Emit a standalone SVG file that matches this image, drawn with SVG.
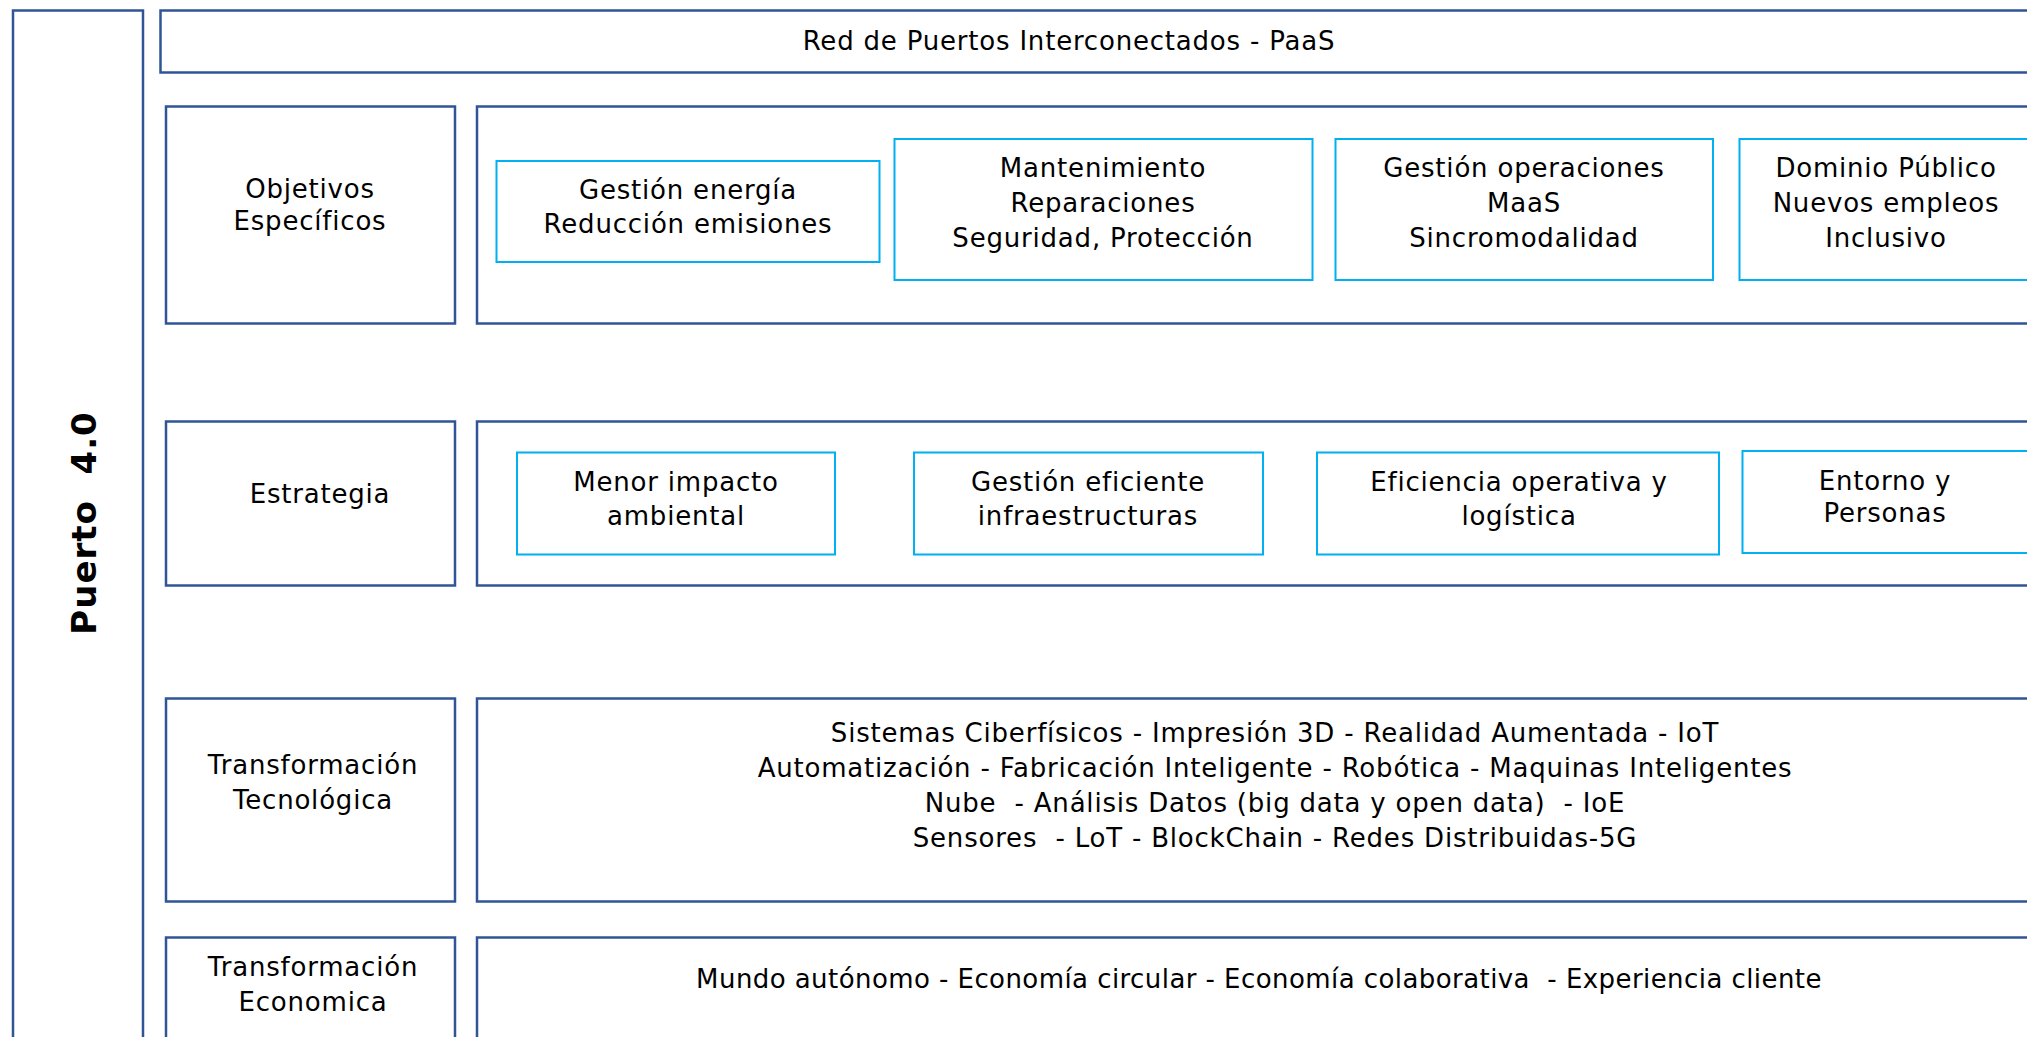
<svg xmlns="http://www.w3.org/2000/svg" width="2027" height="1037" viewBox="0 0 2027 1037">
<style>
.o{fill:#fff;stroke:#2F5597;stroke-width:2.5}
.i{fill:#fff;stroke:#00B0F0;stroke-width:2}
text{font-family:"Comic Sans MS","DejaVu Sans",sans-serif;font-size:26px;letter-spacing:0.8px;fill:#000;text-anchor:middle;dominant-baseline:central;white-space:pre}
.b{font-weight:bold;font-size:34px;letter-spacing:1px}
.n{letter-spacing:0.43px}
</style>
<rect width="2027" height="1037" fill="#fff"/>
<g id="puerto">
<rect class="o" x="13" y="10.5" width="130" height="1040"/>
<text class="b" xml:space="preserve" transform="translate(84,523) rotate(-90)">Puerto  4.0</text>
</g>
<g id="red">
<rect class="o" x="160.5" y="10.5" width="1880" height="62"/>
<text x="1069" y="41">Red de Puertos Interconectados - PaaS</text>
</g>
<g id="objetivos">
<rect class="o" x="166" y="106.5" width="289" height="217"/>
<text x="310" y="189">Objetivos</text>
<text x="310" y="221">Específicos</text>
</g>
<g id="objetivos-panel">
<rect class="o" x="477" y="106.5" width="1560" height="217"/>
</g>
<g id="obj1">
<rect class="i" x="496.5" y="161" width="383" height="101"/>
<text x="688" y="190">Gestión energía</text>
<text x="688" y="224">Reducción emisiones</text>
</g>
<g id="obj2">
<rect class="i" x="894.5" y="139" width="418" height="141"/>
<text x="1103" y="168">Mantenimiento</text>
<text x="1103" y="203">Reparaciones</text>
<text x="1103" y="238">Seguridad, Protección</text>
</g>
<g id="obj3">
<rect class="i" x="1335.5" y="139" width="377.5" height="141"/>
<text x="1524" y="168">Gestión operaciones</text>
<text x="1524" y="203">MaaS</text>
<text x="1524" y="238">Sincromodalidad</text>
</g>
<g id="obj4">
<rect class="i" x="1739.5" y="139" width="300" height="141"/>
<text x="1886" y="168">Dominio Público</text>
<text x="1886" y="203">Nuevos empleos</text>
<text x="1886" y="238">Inclusivo</text>
</g>
<g id="estrategia">
<rect class="o" x="166" y="421.5" width="289" height="164"/>
<text x="320" y="494">Estrategia</text>
</g>
<g id="estrategia-panel">
<rect class="o" x="477" y="421.5" width="1560" height="164"/>
</g>
<g id="est1">
<rect class="i" x="517" y="452.5" width="318" height="102"/>
<text x="676" y="482">Menor impacto</text>
<text x="676" y="516">ambiental</text>
</g>
<g id="est2">
<rect class="i" x="914" y="452.5" width="349" height="102"/>
<text x="1088" y="482">Gestión eficiente</text>
<text x="1088" y="516">infraestructuras</text>
</g>
<g id="est3">
<rect class="i" x="1317" y="452.5" width="402" height="102"/>
<text x="1519" y="482">Eficiencia operativa y</text>
<text x="1519" y="516">logística</text>
</g>
<g id="est4">
<rect class="i" x="1742.5" y="451" width="300" height="102"/>
<text x="1885" y="481">Entorno y</text>
<text x="1885" y="513">Personas</text>
</g>
<g id="tecnologica">
<rect class="o" x="166" y="698.5" width="289" height="203"/>
<text x="313" y="765">Transformación</text>
<text x="313" y="800">Tecnológica</text>
</g>
<g id="tecnologica-panel">
<rect class="o" x="477" y="698.5" width="1560" height="203"/>
<text x="1275" y="733">Sistemas Ciberfísicos - Impresión 3D - Realidad Aumentada - IoT</text>
<text x="1275" y="768">Automatización - Fabricación Inteligente - Robótica - Maquinas Inteligentes</text>
<text x="1275" y="803" xml:space="preserve">Nube  - Análisis Datos (big data y open data)  - IoE</text>
<text x="1275" y="838" xml:space="preserve">Sensores  - LoT - BlockChain - Redes Distribuidas-5G</text>
</g>
<g id="economica">
<rect class="o" x="166" y="937.5" width="289" height="120"/>
<text x="313" y="967">Transformación</text>
<text x="313" y="1002">Economica</text>
</g>
<g id="economica-panel">
<rect class="o" x="477" y="937.5" width="1560" height="120"/>
<text class="n" x="1259" y="979" xml:space="preserve">Mundo autónomo - Economía circular - Economía colaborativa  - Experiencia cliente</text>
</g>
<g id="connectors"></g>
</svg>
